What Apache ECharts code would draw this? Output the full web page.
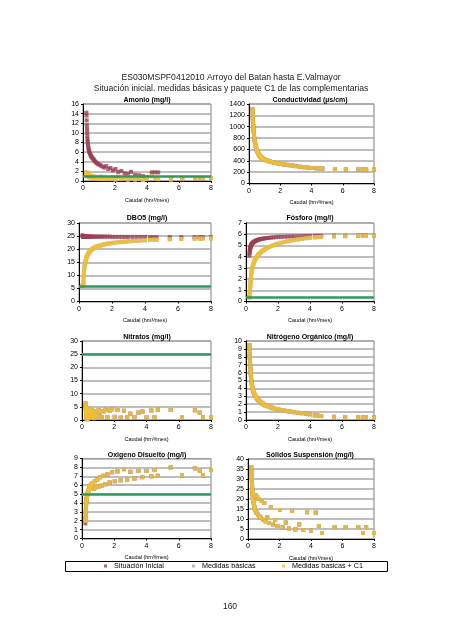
<!DOCTYPE html>
<html><head><meta charset="utf-8">
<script src="https://cdn.jsdelivr.net/npm/echarts@6/dist/echarts.min.js"></script>
<style>html,body{margin:0;padding:0;background:#fff}#c{width:453px;height:640px}</style>
</head><body><div id="c"></div>
<script>
// Caudal (hm3/mes) — shared x values
const caudal = [0.21,0.22,0.23,0.24,0.25,0.26,0.27,0.28,0.29,0.3,0.32,0.34,0.36,0.38,0.4,0.43,0.46,0.5,0.54,0.58,0.63,0.68,0.74,0.8,0.87,0.95,1.03,1.12,1.22,1.33,1.45,1.58,1.72,1.87,2.03,2.2,2.4,2.6,2.8,3.0,3.25,3.5,3.75,4.0,4.3,4.5,4.7,5.5,6.2,7.0,7.3,7.5,8.0];

const amonioInicial = [14.2,13.6,12.6,11.6,10.8,10.0,9.3,8.7,8.2,7.8,7.3,6.9,6.5,6.2,6.0,5.7,5.5,5.2,5.0,4.8,4.6,4.4,4.1,3.9,3.7,3.5,3.4,3.2,3.0,2.8,3.1,2.5,2.7,2.2,2.5,1.9,2.1,1.6,1.5,1.9,1.3,1.2,1.0,0.8,1.8,1.8,1.8,0.3,0.4,0.5,0.6,0.5,0.6];
const amonioC1 = [1.8,1.6,1.5,1.4,1.3,1.6,1.2,1.4,1.1,1.3,1.0,1.2,0.9,1.1,0.8,1.0,0.8,1.1,0.7,0.9,0.6,0.9,0.6,0.8,0.5,0.8,0.5,0.9,0.4,0.7,0.4,0.6,0.4,0.8,0.3,0.9,0.4,0.7,0.3,0.6,0.3,0.5,0.2,0.4,1.0,0.6,0.4,0.3,0.4,0.5,0.6,0.5,0.6];

const conductividadC1 = [1310,1280,1220,1160,1110,1060,1015,975,940,905,850,800,760,725,695,655,625,590,560,535,510,490,470,455,440,428,418,408,398,388,378,368,360,352,345,337,330,322,315,305,296,288,280,274,268,265,262,255,250,250,248,245,245];

const dbo5Inicial = [25.3,25.1,25.0,24.9,24.9,24.9,24.9,24.8,24.8,24.8,24.8,24.8,24.8,24.8,24.8,24.8,24.8,24.8,24.8,24.8,24.8,24.8,24.8,24.8,24.8,24.8,24.8,24.8,24.8,24.8,24.8,24.8,24.8,24.8,24.7,24.7,24.7,24.7,24.7,24.7,24.7,24.7,24.7,24.7,24.6,24.6,24.6,24.6,24.6,24.6,24.6,24.6,24.6];
const dbo5C1 = [6.0,6.0,6.1,6.1,6.2,6.3,7.5,9.0,10.2,11.2,12.5,13.5,14.3,15.0,15.6,16.3,16.9,17.5,18.0,18.4,18.9,19.3,19.7,20.0,20.3,20.6,20.9,21.1,21.3,21.5,21.7,21.9,22.1,22.2,22.4,22.5,22.7,22.8,22.9,23.0,23.1,23.2,23.3,23.4,23.5,23.6,23.6,23.8,23.9,24.0,24.0,24.0,24.1];

const fosforoInicial = [4.1,4.3,4.45,4.55,4.65,4.72,4.8,4.85,4.9,4.95,5.02,5.08,5.12,5.16,5.2,5.25,5.28,5.32,5.36,5.4,5.43,5.46,5.5,5.52,5.55,5.58,5.6,5.62,5.64,5.66,5.68,5.7,5.72,5.74,5.76,5.77,5.78,5.79,5.8,5.81,5.82,5.83,5.84,5.85,5.85,5.86,5.86,5.87,5.87,5.88,5.88,5.88,5.88];
const fosforoC1 = [0.35,0.4,0.5,0.7,0.95,1.2,1.45,1.65,1.85,2.0,2.3,2.55,2.75,2.9,3.05,3.2,3.35,3.5,3.65,3.78,3.9,4.0,4.12,4.22,4.32,4.42,4.52,4.6,4.68,4.78,4.86,4.94,5.02,5.1,5.17,5.24,5.31,5.37,5.43,5.48,5.54,5.59,5.64,5.68,5.72,5.74,5.76,5.8,5.82,5.84,5.85,5.85,5.86];

const nitratosC1 = [6.3,5.5,4.6,3.8,3.0,2.2,1.5,0.8,0.3,4.2,2.8,1.2,3.6,0.6,2.4,3.9,1.6,3.2,0.9,2.6,3.8,1.9,0.7,3.4,2.2,1.3,3.7,2.8,1.0,3.3,3.9,1.1,3.6,4.1,1.2,3.8,0.9,3.5,1.0,2.4,1.1,2.8,3.2,1.0,3.6,1.0,3.9,3.8,0.9,3.7,2.8,1.0,0.9];

const nitrogenoOrgC1 = [9.5,9.0,8.4,7.9,7.4,7.0,6.6,6.3,6.0,5.7,5.25,4.9,4.6,4.35,4.1,3.85,3.6,3.4,3.2,3.05,2.9,2.75,2.6,2.45,2.32,2.2,2.08,1.97,1.86,1.76,1.66,1.57,1.48,1.4,1.32,1.25,1.18,1.11,1.05,0.99,0.92,0.86,0.8,0.72,0.6,0.55,0.5,0.4,0.38,0.35,0.34,0.34,0.32];

const oxigenoInicial = [1.7,2.3,2.8,3.2,3.6,3.9,4.1,4.3,4.45,4.6,4.8,5.0,5.15,5.3,5.4,5.55,5.7,5.85,5.95,6.05,6.15,6.25,5.6,6.45,5.75,6.65,5.85,6.9,5.95,7.05,6.1,7.2,6.3,7.45,6.45,7.55,6.55,7.8,6.6,7.5,6.75,7.6,6.9,7.6,7.0,7.7,7.05,8.0,7.1,7.9,7.6,7.1,7.7];
const oxigenoC1 = [2.0,2.3,2.8,3.2,3.6,3.9,4.1,4.3,4.45,4.6,4.8,5.0,5.15,5.3,5.4,5.55,5.7,5.85,5.95,6.05,6.15,6.25,5.6,6.45,5.75,6.65,5.85,6.9,5.95,7.05,6.1,7.2,6.3,7.45,6.45,7.55,6.55,7.8,6.6,7.5,6.75,7.6,6.9,7.6,7.0,7.7,7.05,8.0,7.1,7.9,7.6,7.1,7.7];

const solidosC1 = [36,34,32,30,28,26.5,25,23.5,22.5,21.5,20,19,18,17,16.2,15.2,14.4,22,13.2,21,12.2,20,11.2,10.5,19,9.6,18,8.8,11,8.0,16,7.3,9.5,6.5,14.5,5.8,8.2,5.3,14,4.8,7.3,4.5,13.4,4.2,13.2,6.5,3.0,6,6,6,3,6,3];

const titulos = ['Amonio (mg/l)','Conductividad (µs/cm)','DBO5 (mg/l)','Fósforo (mg/l)','Nitratos (mg/l)','Nitrógeno Orgánico (mg/l)','Oxigeno Disuelto (mg/l)','Sólidos Suspensión (mg/l)'];
const yMax = [16,1400,30,7,30,10,9,40];
const yPaso = [2,200,5,1,5,1,1,5];
const umbrales = [1.0,null,6,0.4,25,null,5,null];
const serieInicial = [amonioInicial,conductividadC1,dbo5Inicial,fosforoInicial,nitratosC1,nitrogenoOrgC1,oxigenoInicial,solidosC1];
const serieBasicas = [amonioC1,conductividadC1,dbo5C1,fosforoC1,nitratosC1,nitrogenoOrgC1,oxigenoC1,solidosC1];
const serieC1 = [amonioC1,conductividadC1,dbo5C1,fosforoC1,nitratosC1,nitrogenoOrgC1,oxigenoC1,solidosC1];
const nombres = ['Situación Inicial','Medidas básicas','Medidas basicas + C1'];

// layout
const grids = [[83,104,128,77],[249,104,125,79.5],[79,223,132,78.5],[246,223,128,78.5],[82,341,129,79],[246,341,128,79],[82,458.5,129,80],[248,459,126,80]];
const titlePos = [[142,92],[305,92],[142,210],[305,210],[142,329],[305,329],[142,447],[305,447]];
const colors = ['#9b3d52','#a3a3b5','#f2c12e'];
const FONT = 'Liberation Sans';

const pts = ys => caudal.map((x,i)=>[x,ys[i]]);

const option = {
  animation:false,
  backgroundColor:'#fff',
  title:[{text:'ES030MSPF0412010 Arroyo del Batan hasta E.Valmayor\nSituación inicial. medidas básicas y paquete C1 de las complementarias',
    left:226,top:67,textAlign:'center',
    textStyle:{fontFamily:FONT,fontSize:8.6,fontWeight:'normal',color:'#222',lineHeight:11}},
    {text:'160',left:225,top:597,textAlign:'center',textStyle:{fontFamily:FONT,fontSize:8.5,fontWeight:'normal',color:'#222'}}
  ].concat(titulos.map((t,i)=>({text:t,left:titlePos[i][0],top:titlePos[i][1],textAlign:'center',
    textStyle:{fontFamily:FONT,fontSize:7,fontWeight:'bold',color:'#000'}}))),
  legend:nombres.map((n,i)=>({data:[n],left:[104,192,282][i],top:562.5,itemWidth:3,itemHeight:3,padding:0,
     icon:'rect',textStyle:{fontFamily:FONT,fontSize:7.2,color:'#000',padding:[0,0,0,2]}})),
  graphic:[{type:'rect',shape:{x:65.5,y:561.5,width:322,height:10},style:{fill:'none',stroke:'#000',lineWidth:1}}],
  grid:grids.map(g=>({left:g[0],top:g[1],width:g[2],height:g[3],show:true,borderColor:'#7f7f7f',borderWidth:1,backgroundColor:'#fff'})),
  xAxis:grids.map((g,i)=>({gridIndex:i,type:'value',min:0,max:8,interval:2,
    name:'Caudal (hm³/mes)',nameLocation:'middle',nameGap:16,
    nameTextStyle:{fontFamily:FONT,fontSize:5.5,color:'#000'},
    axisLine:{show:true,onZero:false,lineStyle:{color:'#000',width:1}},
    axisTick:{show:true,length:2,lineStyle:{color:'#000'}},
    axisLabel:{fontFamily:FONT,fontSize:7,color:'#000',margin:4,formatter:v=>String(v)},
    splitLine:{show:false}})),
  yAxis:grids.map((g,i)=>({gridIndex:i,type:'value',min:0,max:yMax[i],interval:yPaso[i],
    axisLine:{show:true,lineStyle:{color:'#000',width:1}},
    axisTick:{show:true,length:2,lineStyle:{color:'#000'}},
    axisLabel:{fontFamily:FONT,fontSize:7,color:'#000',margin:4,formatter:v=>String(v)},
    splitLine:{show:true,lineStyle:{color:'#a8a8a8',width:1.5}}})),
  series:[]
};

titulos.forEach((t,i)=>{
  [serieInicial[i],serieBasicas[i],serieC1[i]].forEach((ys,k)=>{
    const s = {type:'scatter',name:nombres[k],xAxisIndex:i,yAxisIndex:i,data:pts(ys),
      symbol:'rect',symbolSize:4,itemStyle:{color:colors[k]},z:2+k};
    if(k===0 && umbrales[i]!==null){
      s.markLine={silent:true,symbol:'none',label:{show:false},
        lineStyle:{color:'#2e9a5e',width:2.5,type:'solid'},data:[{yAxis:umbrales[i]}]};
    }
    option.series.push(s);
  });
});

const chart = echarts.init(document.getElementById('c'),null,{renderer:'canvas'});
chart.setOption(option);
</script></body></html>
